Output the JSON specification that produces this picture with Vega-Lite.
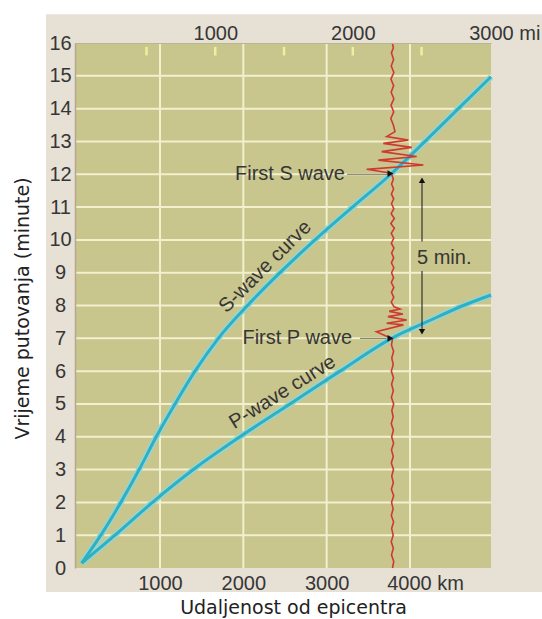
{
  "$schema": "https://vega.github.io/schema/vega-lite/v6.json",
  "width": 416,
  "height": 525,
  "autosize": "none",
  "padding": {"left": 75, "top": 43, "right": 51, "bottom": 51},
  "background": "white",
  "view": {"stroke": null},
  "config": {"axis": {"labelOverlap": false, "labelBound": false}},
  "datasets": {
    "curves": [
      {"wave": "S", "km": 60, "min": 0.15}, {"wave": "S", "km": 290, "min": 1}, {"wave": "S", "km": 530, "min": 2},
      {"wave": "S", "km": 750, "min": 3}, {"wave": "S", "km": 955, "min": 4}, {"wave": "S", "km": 1180, "min": 5},
      {"wave": "S", "km": 1420, "min": 6}, {"wave": "S", "km": 1700, "min": 7}, {"wave": "S", "km": 2050, "min": 8},
      {"wave": "S", "km": 2440, "min": 9}, {"wave": "S", "km": 2860, "min": 10}, {"wave": "S", "km": 3310, "min": 11},
      {"wave": "S", "km": 3770, "min": 12}, {"wave": "S", "km": 4180, "min": 13}, {"wave": "S", "km": 4580, "min": 14},
      {"wave": "S", "km": 4972, "min": 14.97},
      {"wave": "P", "km": 60, "min": 0.15}, {"wave": "P", "km": 460, "min": 1}, {"wave": "P", "km": 910, "min": 2},
      {"wave": "P", "km": 1400, "min": 3}, {"wave": "P", "km": 1960, "min": 4}, {"wave": "P", "km": 2560, "min": 5},
      {"wave": "P", "km": 3160, "min": 6}, {"wave": "P", "km": 3780, "min": 7}, {"wave": "P", "km": 4200, "min": 7.5},
      {"wave": "P", "km": 4640, "min": 8}, {"wave": "P", "km": 4972, "min": 8.32}
    ],
    "seismo": [
      {"km": 3790, "min": 0}, {"km": 3805, "min": 0.2}, {"km": 3778, "min": 0.4}, {"km": 3800, "min": 0.6},
      {"km": 3775, "min": 0.8}, {"km": 3798, "min": 1.0}, {"km": 3780, "min": 1.2}, {"km": 3803, "min": 1.4},
      {"km": 3776, "min": 1.6}, {"km": 3797, "min": 1.8}, {"km": 3779, "min": 2.0}, {"km": 3804, "min": 2.2},
      {"km": 3777, "min": 2.4}, {"km": 3800, "min": 2.6}, {"km": 3781, "min": 2.8}, {"km": 3802, "min": 3.0},
      {"km": 3776, "min": 3.2}, {"km": 3799, "min": 3.4}, {"km": 3778, "min": 3.6}, {"km": 3803, "min": 3.8},
      {"km": 3780, "min": 4.0}, {"km": 3801, "min": 4.2}, {"km": 3775, "min": 4.4}, {"km": 3798, "min": 4.6},
      {"km": 3782, "min": 4.8}, {"km": 3804, "min": 5.0}, {"km": 3777, "min": 5.2}, {"km": 3800, "min": 5.4},
      {"km": 3779, "min": 5.6}, {"km": 3802, "min": 5.8}, {"km": 3776, "min": 6.0}, {"km": 3799, "min": 6.2},
      {"km": 3781, "min": 6.4}, {"km": 3803, "min": 6.6}, {"km": 3778, "min": 6.8}, {"km": 3790, "min": 6.98},
      {"km": 3597, "min": 7.2}, {"km": 3920, "min": 7.41}, {"km": 3720, "min": 7.46}, {"km": 3960, "min": 7.56},
      {"km": 3735, "min": 7.66}, {"km": 3915, "min": 7.74}, {"km": 3750, "min": 7.82}, {"km": 3880, "min": 7.89},
      {"km": 3810, "min": 7.96}, {"km": 3775, "min": 8.1}, {"km": 3805, "min": 8.25}, {"km": 3778, "min": 8.4},
      {"km": 3806, "min": 8.55}, {"km": 3776, "min": 8.7}, {"km": 3803, "min": 8.85}, {"km": 3779, "min": 9.0},
      {"km": 3806, "min": 9.15}, {"km": 3777, "min": 9.3}, {"km": 3804, "min": 9.45}, {"km": 3780, "min": 9.6},
      {"km": 3807, "min": 9.75}, {"km": 3776, "min": 9.9}, {"km": 3805, "min": 10.05}, {"km": 3775, "min": 10.2},
      {"km": 3812, "min": 10.35}, {"km": 3770, "min": 10.5}, {"km": 3812, "min": 10.65}, {"km": 3774, "min": 10.8},
      {"km": 3806, "min": 10.95}, {"km": 3778, "min": 11.1}, {"km": 3804, "min": 11.25}, {"km": 3777, "min": 11.4},
      {"km": 3803, "min": 11.55}, {"km": 3779, "min": 11.7}, {"km": 3800, "min": 11.85}, {"km": 3776, "min": 12.03},
      {"km": 3480, "min": 12.15}, {"km": 4160, "min": 12.28}, {"km": 3620, "min": 12.43}, {"km": 4080, "min": 12.54},
      {"km": 3660, "min": 12.69}, {"km": 4020, "min": 12.82}, {"km": 3680, "min": 12.94}, {"km": 3980, "min": 13.04},
      {"km": 3720, "min": 13.15}, {"km": 3820, "min": 13.3}, {"km": 3800, "min": 13.5}, {"km": 3770, "min": 13.7},
      {"km": 3805, "min": 13.9}, {"km": 3772, "min": 14.1}, {"km": 3806, "min": 14.3}, {"km": 3774, "min": 14.5},
      {"km": 3804, "min": 14.7}, {"km": 3771, "min": 14.9}, {"km": 3806, "min": 15.1}, {"km": 3775, "min": 15.3},
      {"km": 3803, "min": 15.5}, {"km": 3777, "min": 15.7}, {"km": 3800, "min": 15.85}, {"km": 3788, "min": 16.0}
    ]
  },
  "layer": [
    {
      "layer": [
        {
          "data": {"values": [{}]},
          "mark": {"type": "rect", "color": "#e6e0d5"},
          "encoding": {
            "x": {
              "datum": -368, "type": "quantitative",
              "scale": {"domain": [-20, 4972], "nice": false, "zero": false},
              "axis": {
                "orient": "bottom", "values": [1000, 2000, 3000, 4000], "format": "d",
                "labelExpr": "datum.value == 4000 ? '4000 km' : datum.label",
                "labelFont": "Liberation Sans", "labelFontSize": 20, "labelColor": "#363636",
                "labelFlush": false, "labelOverlap": false, "labelBaseline": "top", "labelPadding": 5,
                "labelOffset": {"condition": {"test": "datum.value == 4000", "value": 15}, "value": 0},
                "ticks": false, "tickSize": 0, "domain": false, "grid": false,
                "title": "Udaljenost od epicentra", "titleFont": "DejaVu Sans", "titleFontSize": 19,
                "titleFontWeight": "normal", "titleColor": "#222222", "titleX": 218, "titleY": 45,
                "titleBaseline": "alphabetic", "titleAlign": "center", "zindex": 2
              }
            },
            "x2": {"datum": 5600},
            "y": {
              "datum": -0.73, "type": "quantitative",
              "scale": {"domain": [0, 16], "nice": false, "zero": false},
              "axis": {
                "orient": "left", "values": [0, 1, 2, 3, 4, 5, 6, 7, 8, 9, 10, 11, 12, 13, 14, 15, 16], "tickCount": 16, "format": "d",
                "labelFont": "Liberation Sans", "labelFontSize": 20, "labelColor": "#363636",
                "labelAlign": "center", "labelPadding": 15, "labelOverlap": false, "labelFlush": false,
                "ticks": false, "tickSize": 0, "domain": true, "domainColor": "#b9a68e", "domainWidth": 1.5, "grid": false,
                "title": "Vrijeme putovanja (minute)", "titleFont": "DejaVu Sans", "titleFontSize": 19,
                "titleFontWeight": "normal", "titleColor": "#222222", "titleX": -53, "titleY": 265,
                "titleBaseline": "middle", "titleAngle": -90, "titleAlign": "center", "zindex": 2
              }
            },
            "y2": {"datum": 16.88}
          }
        },
        {
          "data": {"values": [{}]},
          "mark": {"type": "rect", "color": "#c8c58d"},
          "encoding": {
            "x": {"datum": -20, "type": "quantitative"},
            "x2": {"datum": 4972},
            "y": {"datum": 0, "type": "quantitative"},
            "y2": {"datum": 16}
          }
        },
        {
          "data": {"values": [{"g": 1}, {"g": 2}, {"g": 3}, {"g": 4}, {"g": 5}, {"g": 6}, {"g": 7}, {"g": 8}, {"g": 9}, {"g": 10}, {"g": 11}, {"g": 12}, {"g": 13}, {"g": 14}, {"g": 15}]},
          "mark": {"type": "rule", "color": "#f2f0cf", "strokeWidth": 2},
          "encoding": {
            "y": {"field": "g", "type": "quantitative"},
            "x": {"datum": -20, "type": "quantitative"},
            "x2": {"datum": 4972}
          }
        },
        {
          "data": {"values": [{"k": 1000}, {"k": 2000}, {"k": 3000}, {"k": 4000}]},
          "mark": {"type": "rule", "color": "#f2f0cf", "strokeWidth": 2},
          "encoding": {
            "x": {"field": "k", "type": "quantitative"},
            "y": {"datum": 0, "type": "quantitative"},
            "y2": {"datum": 16}
          }
        },
        {
          "data": {"name": "curves"},
          "mark": {"type": "line", "color": "#92d6d8", "strokeWidth": 6, "interpolate": "monotone"},
          "encoding": {
            "x": {"field": "km", "type": "quantitative"},
            "y": {"field": "min", "type": "quantitative"},
            "detail": {"field": "wave"}
          }
        },
        {
          "data": {"name": "curves"},
          "mark": {"type": "line", "color": "#2eb0c0", "strokeWidth": 3, "interpolate": "monotone"},
          "encoding": {
            "x": {"field": "km", "type": "quantitative"},
            "y": {"field": "min", "type": "quantitative"},
            "detail": {"field": "wave"}
          }
        },
        {
          "data": {"name": "seismo"},
          "mark": {"type": "line", "color": "#cf3a30", "strokeWidth": 1.6},
          "encoding": {
            "x": {"field": "km", "type": "quantitative"},
            "y": {"field": "min", "type": "quantitative"},
            "order": {"field": "min", "type": "quantitative"}
          }
        },
        {
          "data": {"values": [{"a": 3244, "b": 3736, "m": 12.0}, {"a": 3400, "b": 3716, "m": 7.0}]},
          "mark": {"type": "rule", "color": "#707060", "strokeWidth": 1},
          "encoding": {
            "x": {"field": "a", "type": "quantitative"},
            "x2": {"field": "b"},
            "y": {"field": "m", "type": "quantitative"}
          }
        },
        {
          "data": {"values": [{"km": 3765, "m": 12.02}, {"km": 3765, "m": 7.0}]},
          "mark": {"type": "point", "shape": "triangle-right", "filled": true, "color": "#111111", "size": 45, "opacity": 1},
          "encoding": {
            "x": {"field": "km", "type": "quantitative"},
            "y": {"field": "m", "type": "quantitative"}
          }
        },
        {
          "data": {"values": [{"km": 4144, "a": 9.95, "b": 11.85}, {"km": 4144, "a": 7.2, "b": 9.05}]},
          "mark": {"type": "rule", "color": "#333333", "strokeWidth": 1.2},
          "encoding": {
            "x": {"field": "km", "type": "quantitative"},
            "y": {"field": "a", "type": "quantitative"},
            "y2": {"field": "b"}
          }
        },
        {
          "data": {"values": [{"km": 4144, "m": 11.82}]},
          "mark": {"type": "point", "shape": "triangle-up", "filled": true, "color": "#111111", "size": 40, "opacity": 1},
          "encoding": {
            "x": {"field": "km", "type": "quantitative"},
            "y": {"field": "m", "type": "quantitative"}
          }
        },
        {
          "data": {"values": [{"km": 4144, "m": 7.2}]},
          "mark": {"type": "point", "shape": "triangle-down", "filled": true, "color": "#111111", "size": 40, "opacity": 1},
          "encoding": {
            "x": {"field": "km", "type": "quantitative"},
            "y": {"field": "m", "type": "quantitative"}
          }
        },
        {
          "data": {"values": [{"t": "First S wave", "km": 3220, "m": 12.0}, {"t": "First P wave", "km": 3305, "m": 7.0}]},
          "mark": {"type": "text", "align": "right", "baseline": "middle", "font": "Liberation Sans", "fontSize": 20, "color": "#363636"},
          "encoding": {
            "x": {"field": "km", "type": "quantitative"},
            "y": {"field": "m", "type": "quantitative"},
            "text": {"field": "t"}
          }
        },
        {
          "data": {"values": [{"t": "5 min.", "km": 4084, "m": 9.46}]},
          "mark": {"type": "text", "align": "left", "baseline": "middle", "font": "Liberation Sans", "fontSize": 20, "color": "#363636"},
          "encoding": {
            "x": {"field": "km", "type": "quantitative"},
            "y": {"field": "m", "type": "quantitative"},
            "text": {"field": "t"}
          }
        },
        {
          "data": {"values": [{"t": "S-wave curve", "km": 2262, "m": 9.18}]},
          "mark": {"type": "text", "align": "center", "baseline": "middle", "angle": 315, "font": "Liberation Sans", "fontSize": 20, "color": "#363636"},
          "encoding": {
            "x": {"field": "km", "type": "quantitative"},
            "y": {"field": "m", "type": "quantitative"},
            "text": {"field": "t"}
          }
        },
        {
          "data": {"values": [{"t": "P-wave curve", "km": 2470, "m": 5.36}]},
          "mark": {"type": "text", "align": "center", "baseline": "middle", "angle": 328, "font": "Liberation Sans", "fontSize": 20, "color": "#363636"},
          "encoding": {
            "x": {"field": "km", "type": "quantitative"},
            "y": {"field": "m", "type": "quantitative"},
            "text": {"field": "t"}
          }
        }
      ]
    },
    {
      "data": {"values": [{"mi": 500}, {"mi": 1000}, {"mi": 1500}, {"mi": 2000}, {"mi": 2500}]},
      "mark": {"type": "rule", "color": "#f0eea0", "strokeWidth": 2.5},
      "encoding": {
        "x": {
          "field": "mi", "type": "quantitative",
          "scale": {"domain": [-20, 3005], "nice": false, "zero": false},
          "axis": {
            "orient": "top", "values": [1000, 2000, 3000], "format": "d",
            "labelExpr": "datum.value == 3000 ? '3000 mi' : datum.label",
            "labelFont": "Liberation Sans", "labelFontSize": 20, "labelColor": "#363636",
            "labelFlush": false, "labelOverlap": false, "labelBaseline": "alphabetic", "labelPadding": 4,
            "labelOffset": {"condition": {"test": "datum.value == 3000", "value": 14}, "value": 0},
            "ticks": false, "tickSize": 0, "domain": true, "domainColor": "#b8b590", "domainWidth": 1, "grid": false,
            "title": null, "zindex": 2
          }
        },
        "y": {
          "datum": 15.88, "type": "quantitative",
          "scale": {"domain": [0, 16], "nice": false, "zero": false},
          "axis": {
            "orient": "left", "values": [1, 3, 5, 7, 9, 11, 13, 15], "format": "d",
            "labelFont": "Liberation Sans", "labelFontSize": 20, "labelColor": "#363636",
            "labelAlign": "center", "labelPadding": 15, "labelOverlap": false, "labelFlush": false,
            "ticks": false, "tickSize": 0, "domain": false, "grid": false, "title": null, "zindex": 2
          }
        },
        "y2": {"datum": 15.62}
      }
    }
  ],
  "resolve": {"scale": {"x": "independent", "y": "independent"}, "axis": {"x": "independent", "y": "independent"}}
}
